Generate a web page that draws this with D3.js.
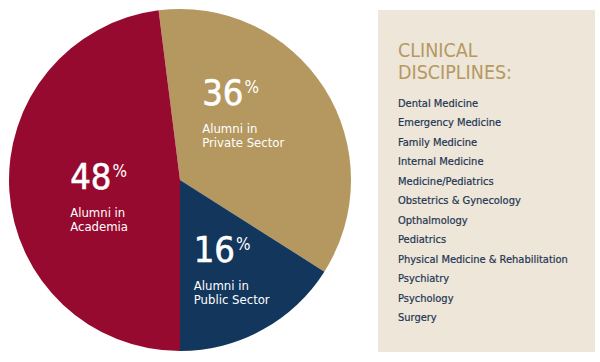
<!DOCTYPE html>
<html>
<head>
<meta charset="utf-8">
<script src="https://cdn.jsdelivr.net/npm/d3@7"></script>
<style>
  body { margin: 0; background: #fff; }
  svg { display: block; }
  text { font-family: "DejaVu Sans Condensed", "Liberation Sans Narrow", sans-serif; }
</style>
</head>
<body>
<script>
// pie data, in drawing order (clockwise from just left of 12 o'clock)
const sectors = ["Private Sector", "Public Sector", "Academia"];
const shares = [36, 16, 48];
const sectorColors = ["#b5985f", "#13365c", "#970a2f"];

// side panel
const panelTitle = ["CLINICAL", "DISCIPLINES:"];
const disciplines = [
  "Dental Medicine",
  "Emergency Medicine",
  "Family Medicine",
  "Internal Medicine",
  "Medicine/Pediatrics",
  "Obstetrics & Gynecology",
  "Opthalmology",
  "Pediatrics",
  "Physical Medicine & Rehabilitation",
  "Psychiatry",
  "Psychology",
  "Surgery"
];

const width = 600,
  height = 362;

const cx = 180, cy = 180, radius = 171;
const start = -7.2 * Math.PI / 180; // private slice begins a little left of top

// small nudges so the labels sit where the original has them
const nudge = {
  "Private Sector": [-58, -24],
  "Public Sector": [-32, -1],
  "Academia": [-15, 3]
};

const svg = d3.select("body").append("svg")
  .attr("width", width)
  .attr("height", height);

const data = sectors.map(function(s, i){
  return { name: s, value: shares[i], color: sectorColors[i] };
});

const pie = d3.pie()
  .sort(null)
  .value(function(d){ return d.value; })
  .startAngle(start)
  .endAngle(start + 2 * Math.PI);

const arc = d3.arc().innerRadius(0).outerRadius(radius);
const labelArc = d3.arc().innerRadius(95).outerRadius(95);

const g = svg.append("g").attr("transform", "translate(" + cx + "," + cy + ")");

const slices = g.selectAll("g.slice")
  .data(pie(data))
  .enter()
  .append("g")
  .attr("class", "slice");

slices.append("path")
  .attr("d", arc)
  .style("fill", function(d){ return d.data.color; });

// labels: big percentage, then two lines of caption
slices.each(function(d){
  const c = labelArc.centroid(d);
  const n = nudge[d.data.name];
  const x = c[0] + n[0], y = c[1] + n[1];
  const lab = d3.select(this).append("g")
    .attr("transform", "translate(" + x + "," + y + ")")
    .style("fill", "#fff");

  const big = lab.append("text")
    .attr("x", 0).attr("y", 0)
    .style("font-size", "36px")
    .style("stroke", "#fff")
    .style("stroke-width", "0.6px");
  big.append("tspan").text(d.data.value);
  big.append("tspan")
    .attr("dy", -12)
    .attr("dx", 1)
    .style("font-size", "17px")
    .style("stroke-width", "0px")
    .text("%");

  lab.append("text")
    .attr("x", 0).attr("y", 28)
    .style("font-size", "13px")
    .text("Alumni in");
  lab.append("text")
    .attr("x", 0).attr("y", 42)
    .style("font-size", "13px")
    .text(d.data.name);
});

// side panel
const panel = svg.append("g");

panel.append("rect")
  .attr("x", 378).attr("y", 10)
  .attr("width", 217).attr("height", 342)
  .style("fill", "#ede6d9");

panel.selectAll("text.title")
  .data(panelTitle)
  .enter()
  .append("text")
  .attr("class", "title")
  .attr("x", 398)
  .attr("y", function(d, i){ return 57 + i * 22; })
  .style("font-size", "19.5px")
  .style("fill", "#b5995f")
  .text(function(d){ return d; });

const listY = d3.scaleLinear()
  .domain([0, disciplines.length - 1])
  .range([107, 321]);

panel.selectAll("text.item")
  .data(disciplines)
  .enter()
  .append("text")
  .attr("class", "item")
  .attr("x", 398)
  .attr("y", function(d, i){ return listY(i); })
  .style("font-size", "11px")
  .style("fill", "#1f3553")
  .style("stroke", "#1f3553")
  .style("stroke-width", "0.2px")
  .text(function(d){ return d; });
</script>
</body>
</html>
